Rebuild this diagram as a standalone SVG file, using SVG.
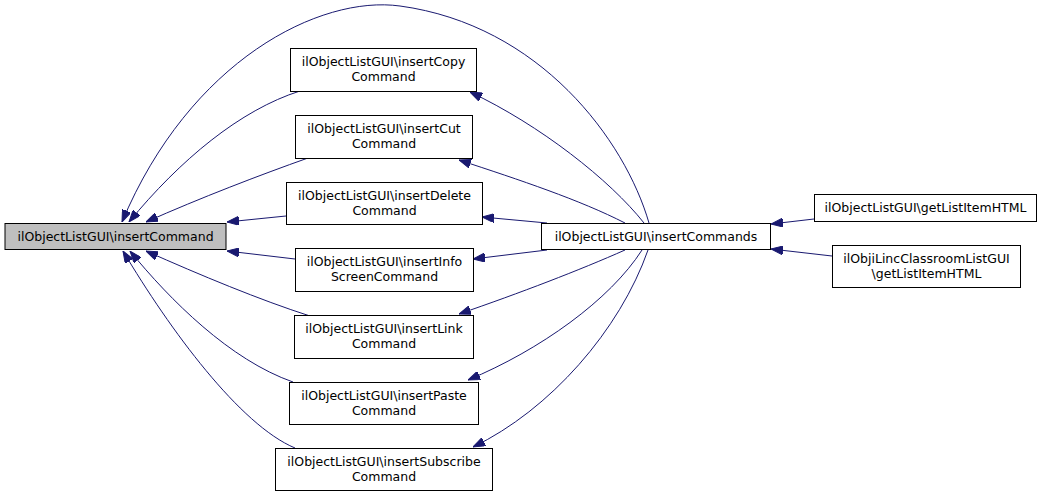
<svg xmlns="http://www.w3.org/2000/svg" width="1051" height="497" viewBox="0 0 1051 497">
<style>
.n rect{fill:#fff;stroke:#000;stroke-width:1}
.n text{font-family:"DejaVu Sans",sans-serif;font-size:12.5px;fill:#000;text-anchor:middle}
#edges path{fill:none;stroke:#191970;stroke-width:1;marker-end:url(#ah)}
</style>
<defs>
<marker id="ah" markerUnits="userSpaceOnUse" markerWidth="12" markerHeight="9" viewBox="0 0 12 9" refX="12" refY="4.5" orient="auto">
<path d="M0,0 L12,4.5 L0,9 z" fill="#191970" stroke="#191970" stroke-width="1"/>
</marker>
</defs>
<rect width="1051" height="497" fill="#fff"/>
<g id="edges">
<path d="M649,223 C625,140 540,25 400,6 C320,-5 190,60 122,222"/>
<path d="M300,91 C240,110 180,160 129,222"/>
<path d="M308,158 C260,175 200,198 146,222"/>
<path d="M286,216 L227,222"/>
<path d="M295,259 L227,251"/>
<path d="M310,316 C260,300 200,275 146,251"/>
<path d="M293,382 C230,360 170,300 130,251"/>
<path d="M295,448 C240,425 170,330 123,251"/>
<path d="M644,223 C610,180 540,125 470,92"/>
<path d="M625,223 C580,200 520,180 459,160"/>
<path d="M547,223 L482,217"/>
<path d="M547,250 L473,259"/>
<path d="M625,250 C580,270 520,293 459,314"/>
<path d="M642,250 C610,300 540,350 468,380"/>
<path d="M648,250 C620,330 550,410 473,447"/>
<path d="M814,219 L771,224"/>
<path d="M832,256 L771,249"/>
</g>
<g id="insertCommand" class="n"><rect x="5" y="223.5" width="221" height="26" style="fill:#bfbfbf"/><text x="115.5" y="241">ilObjectListGUI\insertCommand</text></g>
<g id="insertCopy" class="n"><rect x="290.5" y="48.5" width="186" height="43"/><text x="383.5" y="66">ilObjectListGUI\insertCopy</text><text x="383.5" y="81">Command</text></g>
<g id="insertCut" class="n"><rect x="295.5" y="115.5" width="177" height="43"/><text x="384" y="133">ilObjectListGUI\insertCut</text><text x="384" y="148">Command</text></g>
<g id="insertDelete" class="n"><rect x="286.5" y="182.5" width="196" height="42"/><text x="384.5" y="200">ilObjectListGUI\insertDelete</text><text x="384.5" y="215">Command</text></g>
<g id="insertInfoScreen" class="n"><rect x="295.5" y="248.5" width="178" height="43"/><text x="384.5" y="266">ilObjectListGUI\insertInfo</text><text x="384.5" y="281">ScreenCommand</text></g>
<g id="insertLink" class="n"><rect x="294.5" y="315.5" width="179" height="43"/><text x="384" y="333">ilObjectListGUI\insertLink</text><text x="384" y="348">Command</text></g>
<g id="insertPaste" class="n"><rect x="289.5" y="382.5" width="189" height="42"/><text x="384" y="400">ilObjectListGUI\insertPaste</text><text x="384" y="415">Command</text></g>
<g id="insertSubscribe" class="n"><rect x="275.5" y="448.5" width="217" height="42"/><text x="384" y="466">ilObjectListGUI\insertSubscribe</text><text x="384" y="481">Command</text></g>
<g id="insertCommands" class="n"><rect x="541.5" y="223.5" width="229" height="26"/><text x="656" y="241">ilObjectListGUI\insertCommands</text></g>
<g id="getListItemHTML" class="n"><rect x="814.5" y="194.5" width="222" height="27"/><text x="925.5" y="212">ilObjectListGUI\getListItemHTML</text></g>
<g id="iLincGetListItemHTML" class="n"><rect x="832.5" y="245.5" width="188" height="42"/><text x="926.5" y="263">ilObjiLincClassroomListGUI</text><text x="926.5" y="278">\getListItemHTML</text></g>
</svg>
